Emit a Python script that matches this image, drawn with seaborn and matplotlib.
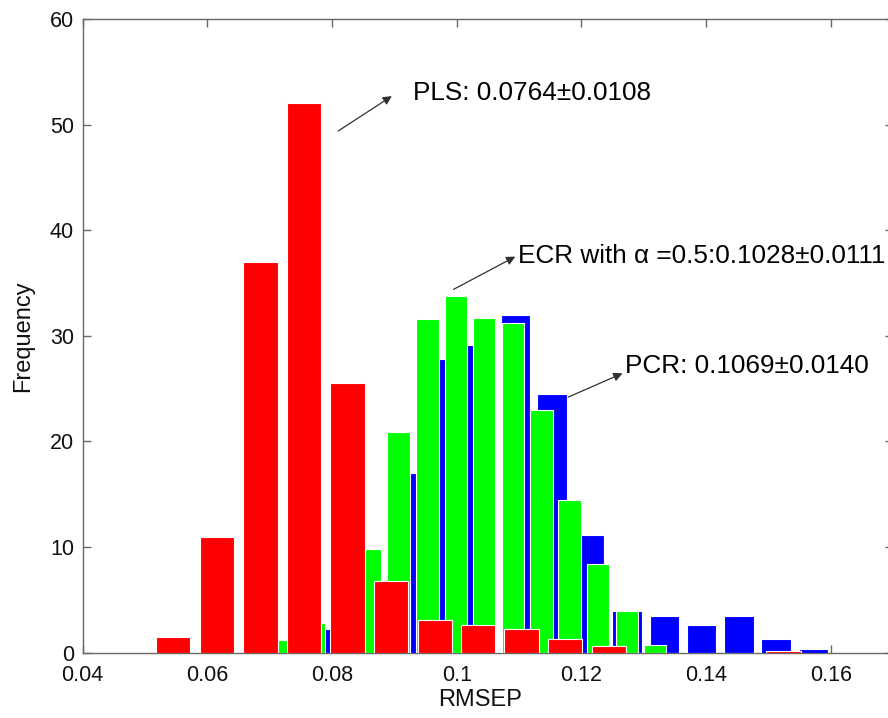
import numpy as np
import pandas as pd
import matplotlib
matplotlib.use("Agg")
import matplotlib.pyplot as plt
import seaborn as sns

# Histogram bin centres (RMSEP) and frequencies for each method
pcr_centers = [0.0794, 0.0854, 0.0914, 0.0974, 0.1034, 0.1094, 0.1153,
               0.1213, 0.1273, 0.1333, 0.1393, 0.1453, 0.1512, 0.1572]
pcr_freq = [2.2, 7.0, 17.0, 27.8, 29.1, 32.0, 24.5,
            11.1, 3.95, 3.5, 2.6, 3.5, 1.3, 0.35]

ecr_centers = [0.0724, 0.0770, 0.0816, 0.0861, 0.0907, 0.0953, 0.0999,
               0.1044, 0.1090, 0.1136, 0.1181, 0.1227, 0.1273, 0.1318]
ecr_freq = [1.2, 2.8, 5.0, 9.8, 20.9, 31.6, 33.8,
            31.7, 31.2, 23.0, 14.5, 8.4, 3.95, 0.7]

pls_centers = [0.0545, 0.0615, 0.0685, 0.0755, 0.0825, 0.0895, 0.0965, 0.1034,
               0.1104, 0.1174, 0.1244, 0.1314, 0.1384, 0.1454, 0.1524]
pls_freq = [1.5, 11.0, 37.0, 52.0, 25.5, 6.8, 3.1, 2.6,
            2.2, 1.3, 0.6, 0.0, 0.0, 0.0, 0.2]

x_ticks = [0.04, 0.06, 0.08, 0.10, 0.12, 0.14, 0.16]
x_tick_labels = ["0.04", "0.06", "0.08", "0.1", "0.12", "0.14", "0.16"]
y_ticks = [0, 10, 20, 30, 40, 50, 60]

# (label, arrow tail, arrow head, text anchor)
annotations = [
    ("PLS: 0.0764\u00b10.0108", (0.0810, 49.4), (0.0896, 52.7), (0.0930, 53.0)),
    ("ECR with \u03b1 =0.5:0.1028\u00b10.0111", (0.0995, 34.4), (0.1094, 37.5), (0.1099, 37.6)),
    ("PCR: 0.1069\u00b10.0140", (0.1179, 24.2), (0.1266, 26.45), (0.1270, 27.1)),
]

sns.set_theme(style="white")
plt.rcParams["font.family"] = ["Liberation Sans", "DejaVu Sans"]

fig = plt.figure(figsize=(8.88, 7.18), dpi=100)
ax = fig.add_axes([0.09313, 0.09095, 0.91250, 0.88259])

series = [
    (pcr_centers, pcr_freq, "#0000ff"),
    (ecr_centers, ecr_freq, "#00ff00"),
    (pls_centers, pls_freq, "#ff0000"),
]
for centers, freq, col in series:
    df = pd.DataFrame({"RMSEP": centers, "Frequency": freq})
    sns.barplot(data=df, x="RMSEP", y="Frequency", native_scale=True,
                width=0.8, color=col, saturation=1, errorbar=None,
                edgecolor="white", linewidth=0.8, zorder=3, ax=ax)

for label, tail, head, tpos in annotations:
    ax.annotate("", xy=head, xytext=tail,
                arrowprops=dict(arrowstyle="-|>", color="#303030", lw=0.9,
                                mutation_scale=13, shrinkA=0, shrinkB=0),
                zorder=5)
    ax.text(tpos[0], tpos[1], label, fontsize=18.8, color="black",
            ha="left", va="center", zorder=6)

ax.set_xlim(0.04, 0.17)
ax.set_ylim(0, 60)
ax.set_xticks(x_ticks)
ax.set_xticklabels(x_tick_labels)
ax.set_yticks(y_ticks)

spine_col = "#686868"
for s in ax.spines.values():
    s.set_visible(True)
    s.set_color(spine_col)
    s.set_linewidth(1.0)

ax.tick_params(axis="both", direction="in", length=5.8, width=1.0,
               color=spine_col, labelsize=15.5, labelcolor="#111111",
               top=True, right=True, bottom=True, left=True)
ax.tick_params(axis="x", pad=9)
ax.tick_params(axis="y", pad=6.3)

ax.set_xlabel("RMSEP", fontsize=17, color="#111111")
ax.set_ylabel("Frequency", fontsize=17, color="#111111")
ax.xaxis.set_label_coords(0.49, -0.058)
ax.yaxis.set_label_coords(-0.06, 0.5)

fig.savefig("out.png", dpi=100)
